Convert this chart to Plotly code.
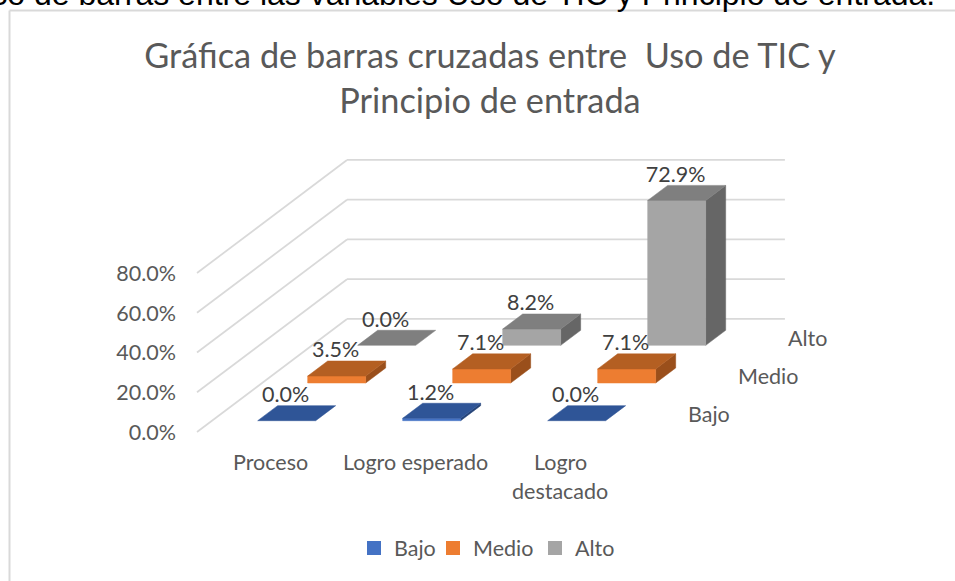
import plotly.graph_objects as go

categories = ["Proceso", "Logro esperado", "Logro<br>destacado"]
series_names = ["Bajo", "Medio", "Alto"]
bajo = [0.0, 1.2, 0.0]
medio = [3.5, 7.1, 7.1]
alto = [0.0, 8.2, 72.9]
tick_values = [0, 20, 40, 60, 80]
caption = "Gráfico de barras entre las variables Uso de TIC y Principio de entrada."
title = "Gráfica de barras cruzadas entre \u00a0Uso de TIC y<br>Principio de entrada"

series = [bajo, medio, alto]
front_col = ["#4472C4", "#ED7D31", "#A5A5A5"]
top_col = ["#2F5597", "#B45F22", "#7F7F7F"]
side_col = ["#264478", "#9A4F1B", "#666666"]
legend_widths = [34, 57, 41]
GRID = "#D9D9D9"
TXT = "#595959"
FONT = "Lato"
LAB = 21.5

# oblique projection: category position c, value v (%), depth d (series rows)
X0, Y0 = 197.0, 432.0
CX, VY, DX, DY = 145.0, 1.9875, 50.0, 37.67


def px(c, d):
    return X0 + CX * c + DX * d


def py(v, d):
    return Y0 - VY * v - DY * d


def pt(c, v, d):
    return px(c, d), py(v, d)


fig = go.Figure()


def poly(points, color):
    xs = [p[0] for p in points] + [points[0][0]]
    ys = [p[1] for p in points] + [points[0][1]]
    fig.add_trace(go.Scatter(x=xs, y=ys, mode="lines", fill="toself", fillcolor=color,
                             line=dict(color=color, width=0.5), hoverinfo="skip", showlegend=False))


def line(a, b, width=1.75):
    fig.add_trace(go.Scatter(x=[a[0], b[0]], y=[a[1], b[1]], mode="lines",
                             line=dict(color=GRID, width=width), hoverinfo="skip", showlegend=False))


ncat = len(categories)
nrow = len(series)
for t in tick_values:
    line(pt(0, t, 0), pt(0, t, nrow))
    line(pt(0, t, nrow), pt(ncat + 0.02, t, nrow))

GAP, WID, D0, D1 = 0.315, 0.40, 0.3, 0.7
labels_x, labels_y, labels_t = [], [], []
for r in range(nrow - 1, -1, -1):
    for c, v in enumerate(series[r]):
        a, b = c + GAP, c + GAP + WID
        d0, d1 = r + D0, r + D1
        if v > 0:
            poly([pt(b, 0, d0), pt(b, 0, d1), pt(b, v, d1), pt(b, v, d0)], side_col[r])
            poly([pt(a, 0, d0), pt(b, 0, d0), pt(b, v, d0), pt(a, v, d0)], front_col[r])
        poly([pt(a, v, d0), pt(b, v, d0), pt(b, v, d1), pt(a, v, d1)], top_col[r])
        labels_x.append(px((a + b) / 2, d0) - 1)
        labels_y.append(py(v, d0) - 24)
        labels_t.append(f"{v:.1f}%")

fig.add_trace(go.Scatter(x=labels_x, y=labels_y, text=labels_t, mode="text", hoverinfo="skip",
                         textposition="middle center", showlegend=False,
                         textfont=dict(family=FONT, size=LAB, color="#404040")))

# value axis labels
fig.add_trace(go.Scatter(x=[px(0, 0) - 21] * len(tick_values), y=[py(t, 0) + 2.5 for t in tick_values],
                         text=[f"{t:.1f}%" for t in tick_values], mode="text", hoverinfo="skip",
                         textposition="middle left", showlegend=False,
                         textfont=dict(family=FONT, size=LAB, color=TXT)))

annotations = []
# category labels
for i, name in enumerate(categories):
    parts = name.split("<br>")
    for j, part in enumerate(parts):
        annotations.append(dict(x=px(i + 0.5, 0) + 0.5, y=462 + 29 * j, text=part, showarrow=False,
                                xanchor="center", yanchor="middle", xref="x", yref="y",
                                font=dict(family=FONT, size=LAB, color=TXT)))
# series labels
for r, name in enumerate(series_names):
    annotations.append(dict(x=px(ncat + 0.02, r + 0.5) + 51 - DX / 2, y=py(0, r + 0.5) + 0.5, text=name,
                            showarrow=False, xanchor="left", yanchor="middle", xref="x", yref="y",
                            font=dict(family=FONT, size=LAB, color=TXT)))
annotations.append(dict(x=937, y=14.5, text=caption, showarrow=False, xanchor="right", yanchor="bottom",
                        xref="x", yref="y",
                        font=dict(family="Liberation Sans", size=32, color="#000000")))

# legend entries
for name, col, w in zip(series_names, front_col, legend_widths):
    fig.add_trace(go.Scatter(x=[None], y=[None], mode="markers", name=name, legendwidth=w,
                             marker=dict(symbol="square", size=14, color=col)))

fig.update_layout(
    width=955, height=581,
    margin=dict(l=0, r=0, t=0, b=0),
    paper_bgcolor="white", plot_bgcolor="white",
    title=dict(text=title, x=490 / 955, xanchor="center", y=1 - 68 / 581, yanchor="middle",
               font=dict(family=FONT, size=34.3, color=TXT)),
    xaxis=dict(range=[0, 955], visible=False, fixedrange=True),
    yaxis=dict(range=[581, 0], visible=False, fixedrange=True),
    legend=dict(orientation="h", x=354 / 955, y=1 - 548 / 581, xanchor="left", yanchor="middle",
                font=dict(family=FONT, size=LAB, color=TXT), bgcolor="rgba(0,0,0,0)", itemwidth=30),
    annotations=annotations,
    shapes=[
        dict(type="line", xref="x", yref="y", x0=9.5, x1=9.5, y0=10.5, y1=581, line=dict(color=GRID, width=2)),
        dict(type="line", xref="x", yref="y", x0=9.5, x1=955, y0=10.5, y1=10.5, line=dict(color=GRID, width=2)),
    ],
)

fig.write_html("out.html", config=dict(displayModeBar=False),
               post_script="document.body.style.margin='0';document.documentElement.style.overflow='hidden';")
